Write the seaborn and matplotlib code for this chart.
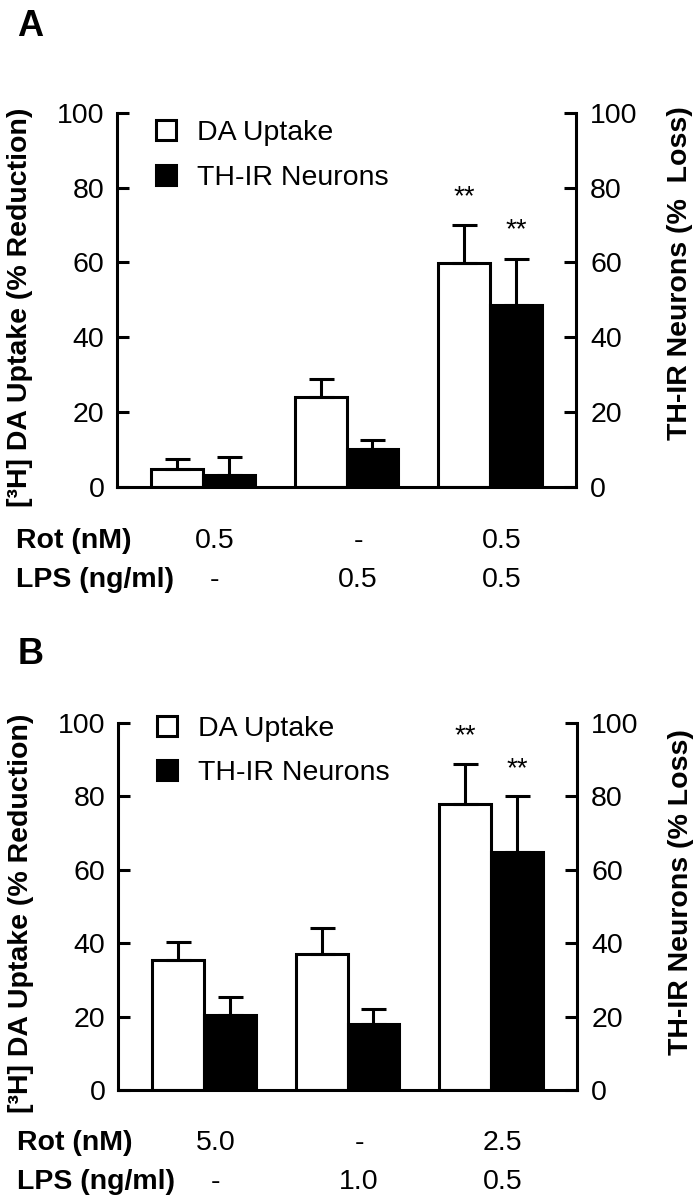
import numpy as np
import pandas as pd
import matplotlib
matplotlib.use('Agg')
import matplotlib.pyplot as plt
from matplotlib.patches import Patch
import seaborn as sns

# values
groups = ['g1', 'g2', 'g3']
series = ['DA Uptake', 'TH-IR Neurons']

a_uptake = [4.7, 23.9, 59.7]
a_uptake_err = [2.6, 5.0, 10.2]
a_neurons = [3.1, 10.0, 48.6]
a_neurons_err = [4.8, 2.5, 12.4]
a_rot = ['0.5', '-', '0.5']
a_lps = ['-', '0.5', '0.5']

b_uptake = [35.3, 37.1, 77.9]
b_uptake_err = [5.0, 6.9, 11.0]
b_neurons = [20.5, 17.9, 64.8]
b_neurons_err = [4.9, 4.1, 15.2]
b_rot = ['5.0', '-', '2.5']
b_lps = ['-', '1.0', '0.5']

sig = ['', '', '**']

sns.set_style('ticks', {'axes.edgecolor': 'black', 'text.color': 'black',
                        'axes.labelcolor': 'black', 'xtick.color': 'black',
                        'ytick.color': 'black'})
plt.rcParams['font.family'] = ['Liberation Sans', 'DejaVu Sans']

LW = 2.2
FS = 20.5


def panel(ax, uptake, uptake_err, neurons, neurons_err, rot, lps, right_label, leg_y, right_label_y):
    df = pd.DataFrame({
        'group': groups * 2,
        'series': [series[0]] * 3 + [series[1]] * 3,
        'value': uptake + neurons,
    })
    sns.barplot(data=df, x='group', y='value', hue='series', palette=['white', 'black'],
                edgecolor='black', linewidth=LW, width=0.72, errorbar=None, legend=False,
                saturation=1, ax=ax)

    # upper error bars + significance stars
    for cont, vals, errs in zip(ax.containers, [uptake, neurons], [uptake_err, neurons_err]):
        for bar, v, e, s in zip(cont, vals, errs, sig):
            xc = bar.get_x() + bar.get_width() / 2
            ax.errorbar(xc, v, yerr=[[0], [e]], fmt='none', ecolor='black',
                        elinewidth=LW, capsize=9, capthick=LW, zorder=1)
            if s:
                ax.text(xc, v + e + 7.5, s, ha='center', va='center', fontsize=20)

    ax.set_xlim(-0.6, 2.6)
    ax.set_ylim(0, 100)
    ax.set_yticks([0, 20, 40, 60, 80, 100])
    ax.set_xticks([])
    ax.set_xlabel('')
    ax.set_ylabel('[³H] DA Uptake (% Reduction)', fontsize=FS, fontweight='bold')
    ax.yaxis.set_label_coords(-0.183, 0.48)
    ax.tick_params(axis='y', direction='in', length=8.5, width=LW, pad=9, labelsize=FS)
    sns.despine(ax=ax, top=True, right=True)
    for sp in ['left', 'bottom']:
        ax.spines[sp].set_linewidth(LW)

    ax2 = ax.twinx()
    ax2.set_ylim(0, 100)
    ax2.set_yticks([0, 20, 40, 60, 80, 100])
    ax2.tick_params(axis='y', direction='in', length=8.5, width=LW, pad=10, labelsize=FS)
    for sp in ['top', 'left', 'bottom']:
        ax2.spines[sp].set_visible(False)
    ax2.spines['right'].set_linewidth(LW)
    ax2.set_ylabel(right_label, fontsize=FS, fontweight='bold', rotation=90)
    ax2.yaxis.set_label_coords(1.198, right_label_y)

    handles = [Patch(facecolor='white', edgecolor='black', linewidth=LW),
               Patch(facecolor='black', edgecolor='black', linewidth=LW)]
    ax.legend(handles, series, loc='upper left', bbox_to_anchor=(0.085, leg_y),
              frameon=False, fontsize=FS, handlelength=0.7, handleheight=0.7,
              handletextpad=0.75, labelspacing=0.65, borderpad=0, borderaxespad=0)

    # treatment rows under the axis
    tr = ax.get_xaxis_transform()
    ax.text(-0.22, -0.145, 'Rot (nM)', transform=ax.transAxes, fontsize=FS,
            fontweight='bold', ha='left', va='center')
    ax.text(-0.22, -0.25, 'LPS (ng/ml)', transform=ax.transAxes, fontsize=FS,
            fontweight='bold', ha='left', va='center')
    for i, (r, l) in enumerate(zip(rot, lps)):
        ax.text(i + 0.08, -0.145, r, transform=tr, fontsize=FS, ha='center', va='center')
        ax.text(i + 0.08, -0.25, l, transform=tr, fontsize=FS, ha='center', va='center')


fig = plt.figure(figsize=(6.98, 11.99), dpi=100)
ax_a = fig.add_axes([0.1676, 0.594, 0.658, 0.312])
ax_b = fig.add_axes([0.169, 0.091, 0.658, 0.306])

panel(ax_a, a_uptake, a_uptake_err, a_neurons, a_neurons_err, a_rot, a_lps,
      'TH-IR Neurons (%  Loss)', 0.98, 0.57)
panel(ax_b, b_uptake, b_uptake_err, b_neurons, b_neurons_err, b_rot, b_lps,
      'TH-IR Neurons (% Loss)', 1.02, 0.54)

fig.text(0.025, 1 - 27 / 1199, 'A', fontsize=26, fontweight='bold', va='center')
fig.text(0.025, 1 - 654 / 1199, 'B', fontsize=26, fontweight='bold', va='center')

fig.savefig('out.png', dpi=100)
